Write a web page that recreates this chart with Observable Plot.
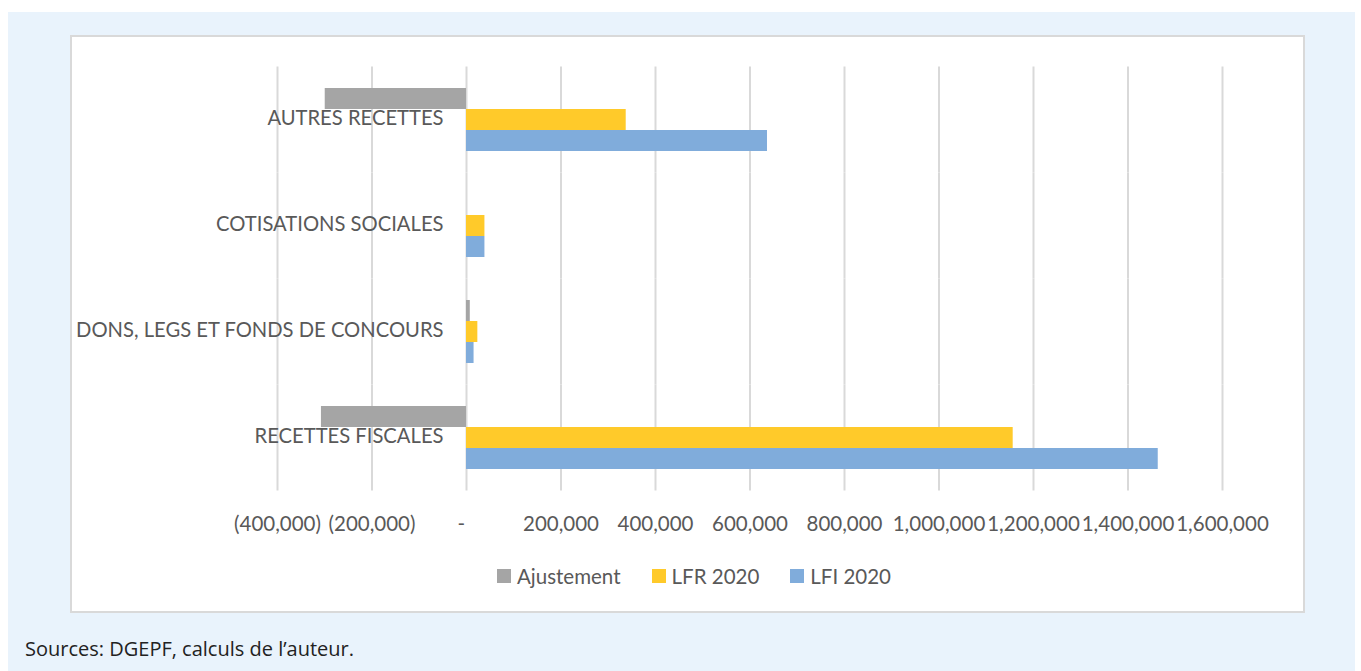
<!DOCTYPE html>
<html>
<head>
<meta charset="utf-8">
<script src="https://cdn.jsdelivr.net/npm/d3@7"></script>
<script src="https://cdn.jsdelivr.net/npm/@observablehq/plot@0.6"></script>
<style>
  body { margin: 0; background: #ffffff; }
  #outer { position: absolute; left: 8px; top: 12px; width: 1347px; height: 659px; background: #e9f3fc; }
  #panel { position: absolute; left: 62px; top: 23px; width: 1231px; height: 574px; border: 2px solid #d9d9d9; background: #ffffff; }
  #chart { position: absolute; left: 0; top: 0; }
  #legend { position: absolute; left: 425px; top: 528.5px; height: 20px; display: flex; align-items: center;
            font-family: Lato, sans-serif; font-size: 20.5px; line-height: 20px; color: #595959; }
  .item { display: flex; align-items: center; margin-right: 31px; }
  .sw { width: 14px; height: 14px; margin-right: 6px; }
  #source { position: absolute; left: 17px; top: 627px; font-family: "Open Sans", sans-serif; font-size: 20px; line-height: 20px; color: #222222; white-space: nowrap; }
</style>
</head>
<body>
<div id="outer">
  <div id="panel">
    <div id="chart"></div>
    <div id="legend"></div>
  </div>
  <div id="source">Sources: DGEPF, calculs de l’auteur.</div>
</div>
<script>
const categories = ["AUTRES RECETTES", "COTISATIONS SOCIALES", "DONS, LEGS ET FONDS DE CONCOURS", "RECETTES FISCALES"];
const series = ["Ajustement", "LFR 2020", "LFI 2020"];
const colors = ["#a5a5a5", "#ffca2a", "#80acdb"];
const ajustement = [-299000, 0, 8000, -307000];
const lfr2020 = [338000, 39000, 24000, 1157000];
const lfi2020 = [637000, 39000, 16000, 1464000];
const tickValues = [-400000, -200000, 0, 200000, 400000, 600000, 800000, 1000000, 1200000, 1400000, 1600000];

const seriesValues = [ajustement, lfr2020, lfi2020];
const rows = categories.flatMap((c, i) => series.map((s, j) => ({category: c, series: s, value: seriesValues[j][i]})));

const num = d3.format(",");
const fmt = d => d === 0 ? "-\u00a0\u00a0" : d < 0 ? `(${num(-d)})` : num(d);

const chart = Plot.plot({
  width: 1231,
  height: 510,
  marginLeft: 205,
  marginRight: 81,
  marginTop: 29,
  marginBottom: 57,
  style: {fontFamily: "Lato, sans-serif", fontSize: "20.5px", color: "#595959", background: "transparent", overflow: "visible"},
  x: {domain: [-400000, 1600000], ticks: tickValues, tickFormat: fmt, tickSize: 0, tickPadding: 45.5, label: null},
  y: {domain: series, axis: null, padding: 0},
  fy: {domain: categories, axis: null, paddingInner: 0.3868, paddingOuter: 0.1934},
  color: {domain: series, range: colors},
  marks: [
    Plot.ruleX(tickValues, {stroke: "#d9d9d9", strokeWidth: 2, insetTop: -20.5, insetBottom: -20.5}),
    Plot.barX(rows, {x: "value", y: "series", fy: "category", fill: "series"}),
    Plot.text(categories, {fy: d => d, x: () => 0, text: d => d, textAnchor: "end", dx: -23, dy: -1, fontSize: 20.2})
  ]
});
document.getElementById("chart").appendChild(chart);

const legend = document.getElementById("legend");
series.forEach((s, i) => {
  const item = document.createElement("div");
  item.className = "item";
  const sw = document.createElement("div");
  sw.className = "sw";
  sw.style.background = colors[i];
  const label = document.createElement("span");
  label.textContent = s;
  item.appendChild(sw);
  item.appendChild(label);
  legend.appendChild(item);
});
</script>
</body>
</html>
